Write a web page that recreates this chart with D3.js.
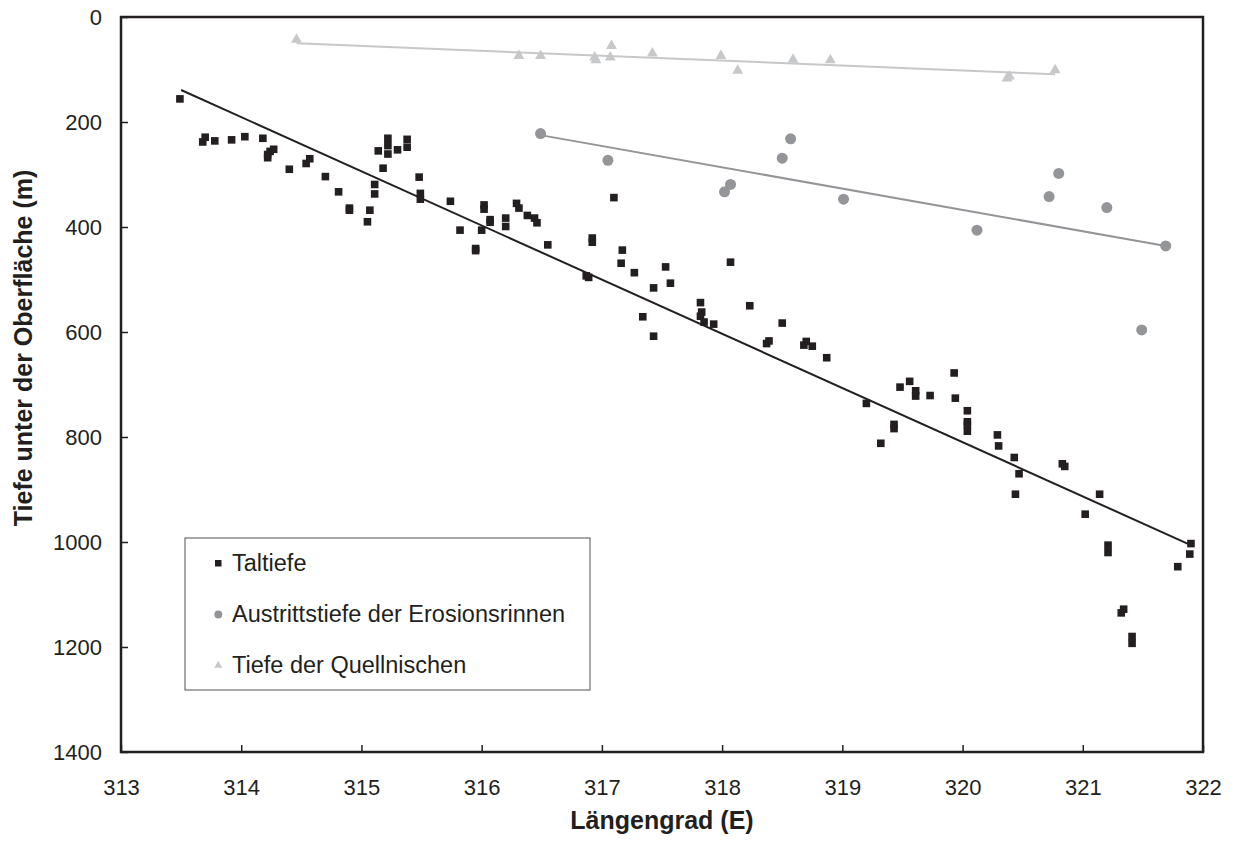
<!DOCTYPE html>
<html lang="de">
<head>
<meta charset="UTF-8">
<title>Taltiefe</title>
<style>
  body { margin: 0; background: #fff; }
  text { font-family: "Liberation Sans", Arial, Helvetica, sans-serif; fill: #231f20; }
</style>
</head>
<body>
<svg id="chart" width="1235" height="845"></svg>
<script src="https://d3js.org/d3.v7.min.js"></script>
<script>
// Taltiefe (squares): [Längengrad, Tiefe]
const taltiefe = [
  [313.49,156],[313.68,238],[313.70,229],[313.78,236],[313.92,234],[314.03,228],[314.18,231],
  [314.22,268],[314.22,262],[314.24,256],[314.27,252],[314.40,290],[314.54,279],[314.57,270],
  [314.70,304],[314.81,333],[314.90,364],[314.90,368],[315.05,390],[315.07,368],[315.11,319],
  [315.11,337],[315.14,255],[315.18,288],[315.22,231],[315.22,245],[315.22,261],[315.30,253],
  [315.38,233],[315.38,248],[315.48,305],[315.49,336],[315.49,347],[315.74,351],[315.82,406],
  [315.95,441],[315.95,445],[316.00,406],[316.02,358],[316.02,366],[316.07,386],[316.07,391],
  [316.20,383],[316.20,399],[316.29,355],[316.31,364],[316.38,378],[316.44,383],[316.46,392],
  [316.55,434],[316.87,493],[316.89,496],[316.92,421],[316.92,429],[317.10,344],[317.17,444],
  [317.16,469],[317.27,487],[317.43,516],[317.34,571],[317.43,608],[317.53,476],[317.57,507],
  [317.82,544],[317.83,562],[317.82,570],[317.85,581],[317.93,585],[318.07,467],[318.23,550],
  [318.37,622],[318.39,617],[318.50,583],[318.68,625],[318.70,618],[318.75,627],[318.87,649],
  [319.20,736],[319.32,812],[319.43,776],[319.43,784],[319.48,705],[319.56,694],[319.61,712],
  [319.61,722],[319.73,721],[319.93,678],[319.94,726],[320.04,750],[320.04,771],[320.04,777],
  [320.04,789],[320.29,796],[320.30,817],[320.43,839],[320.47,870],[320.44,909],[320.83,851],
  [320.85,856],[321.14,909],[321.02,947],[321.21,1006],[321.21,1020],[321.79,1047],[321.90,1003],
  [321.89,1023],[321.32,1135],[321.34,1128],[321.41,1180],[321.41,1193]
]
// Austrittstiefe der Erosionsrinnen (circles)
const erosionsrinnen = [
  [316.49,222],[317.05,273],[318.02,333],[318.07,319],[318.50,269],[318.57,232],[319.01,347],
  [320.12,406],[320.72,342],[320.80,298],[321.20,363],[321.49,596],[321.69,436]
]
// Tiefe der Quellnischen (triangles)
const quellnischen = [
  [314.46,43],[316.31,74],[316.49,74],[316.94,77],[316.95,82],[317.07,77],[317.08,55],
  [317.42,69],[317.99,74],[318.13,102],[318.59,81],[318.90,82],[320.37,117],[320.39,113],
  [320.77,101]
]
// linear trend lines (end points)
const trendTal = [[313.50,139],[321.88,1004]]
const trendErosion = [[316.49,225],[321.69,436]]
const trendQuell = [[314.46,50],[320.77,109]]

const xTicks = [313,314,315,316,317,318,319,320,321,322]
const yTicks = [0,200,400,600,800,1000,1200,1400]
const legendLabels = ['Taltiefe', 'Austrittstiefe der Erosionsrinnen', 'Tiefe der Quellnischen']

const dark = '#231f20', mid = '#939598', light = '#c7c8ca'
const m = { left: 121, top: 17, right: 1203, bottom: 752 }

const svg = d3.select('#chart')
const x = d3.scaleLinear().domain([313, 322]).range([m.left, m.right])
const y = d3.scaleLinear().domain([0, 1400]).range([m.top, m.bottom])

// axes, ticks pointing inwards
svg.append('g')
  .attr('transform', `translate(0,${m.bottom})`)
  .call(d3.axisBottom(x).tickValues(xTicks).tickFormat(d3.format('d')).tickSize(-7).tickSizeOuter(0).tickPadding(27))
  .call(g => g.select('.domain').remove())
  .call(g => g.selectAll('line').attr('stroke', dark).attr('stroke-width', 1.5))
  .call(g => g.selectAll('text').attr('font-size', 22).attr('fill', dark))

svg.append('g')
  .attr('transform', `translate(${m.left},0)`)
  .call(d3.axisLeft(y).tickValues(yTicks).tickFormat(d3.format('d')).tickSize(-7).tickSizeOuter(0).tickPadding(19))
  .call(g => g.select('.domain').remove())
  .call(g => g.selectAll('line').attr('stroke', dark).attr('stroke-width', 1.5))
  .call(g => g.selectAll('text').attr('font-size', 22).attr('fill', dark))

svg.append('rect')
  .attr('x', m.left).attr('y', m.top)
  .attr('width', m.right - m.left).attr('height', m.bottom - m.top)
  .attr('fill', 'none').attr('stroke', dark).attr('stroke-width', 2.5)

// axis titles
svg.append('text')
  .attr('x', (m.left + m.right) / 2).attr('y', 829)
  .attr('text-anchor', 'middle').attr('font-size', 25).attr('font-weight', 'bold')
  .text('Längengrad (E)')
svg.append('text')
  .attr('transform', 'translate(32,348) rotate(-90)')
  .attr('text-anchor', 'middle').attr('font-size', 25).attr('font-weight', 'bold')
  .text('Tiefe unter der Oberfläche (m)')

// trend lines
const line = d3.line().x(d => x(d[0])).y(d => y(d[1]))
svg.append('path').attr('d', line(trendQuell)).attr('stroke', light).attr('stroke-width', 2).attr('fill', 'none')
svg.append('path').attr('d', line(trendErosion)).attr('stroke', mid).attr('stroke-width', 2).attr('fill', 'none')
svg.append('path').attr('d', line(trendTal)).attr('stroke', dark).attr('stroke-width', 2).attr('fill', 'none')

// markers
const tri = d3.symbol().type(d3.symbolTriangle).size(52)
svg.append('g').selectAll('path')
  .data(quellnischen).enter()
  .append('path')
  .attr('d', tri)
  .attr('transform', d => `translate(${x(d[0])},${y(d[1])})`)
  .attr('fill', light)

svg.append('g').selectAll('circle')
  .data(erosionsrinnen).enter()
  .append('circle')
  .attr('cx', d => x(d[0])).attr('cy', d => y(d[1])).attr('r', 5.5)
  .attr('fill', mid)

svg.append('g').selectAll('rect')
  .data(taltiefe).enter()
  .append('rect')
  .attr('x', d => x(d[0]) - 3.8).attr('y', d => y(d[1]) - 3.8)
  .attr('width', 7.6).attr('height', 7.6)
  .attr('fill', dark)

// legend
const lg = svg.append('g').attr('transform', 'translate(185,538)')
lg.append('rect').attr('width', 405).attr('height', 152)
  .attr('fill', '#fff').attr('stroke', '#6d6e71').attr('stroke-width', 1.2)
const rows = lg.selectAll('g.row').data(legendLabels).enter()
  .append('g').attr('class', 'row')
  .attr('transform', (d, i) => `translate(0,${25 + i * 51})`)
rows.append('text').attr('x', 47).attr('y', 8).attr('font-size', 23.5).text(d => d)
rows.filter((d, i) => i === 0).append('rect')
  .attr('x', 30).attr('y', -3).attr('width', 6.5).attr('height', 6.5).attr('fill', dark)
rows.filter((d, i) => i === 1).append('circle')
  .attr('cx', 33.3).attr('cy', 0.5).attr('r', 4).attr('fill', mid)
rows.filter((d, i) => i === 2).append('path')
  .attr('d', d3.symbol().type(d3.symbolTriangle).size(28))
  .attr('transform', 'translate(33.3,0.5)').attr('fill', light)
</script>
</body>
</html>
